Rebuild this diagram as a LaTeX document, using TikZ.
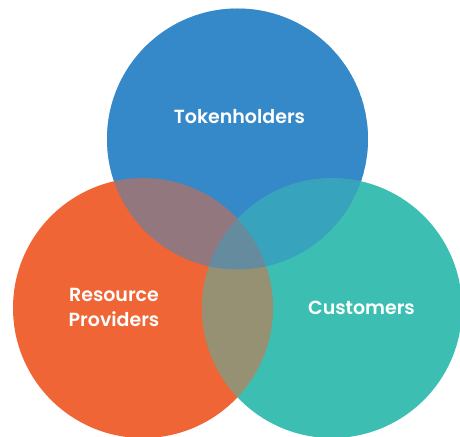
\documentclass[tikz,border=0pt]{standalone}
\usepackage{fontspec}
\newfontfamily\labelfont{Poppins SemiBold}
\definecolor{tokblue}{HTML}{3689C9}
\definecolor{resorange}{HTML}{F06535}
\definecolor{custteal}{HTML}{3CBFB2}
\tikzset{
  venntext/.style={text=white, font=\labelfont\fontsize{19}{25}\selectfont, align=center, inner sep=0pt}
}
\begin{document}
\begin{tikzpicture}[x=1pt, y=-1pt]
  \useasboundingbox (0,0) rectangle (460,436);
  \clip (0,0) rectangle (460,436);
  % solid discs
  \fill[tokblue] (237.5,139) circle[radius=130.5];
  \fill[resorange] (143,308) circle[radius=130];
  \fill[custteal] (332,308) circle[radius=130];
  % orange over teal inside the teal disc
  \begin{scope}
    \clip (332,308) circle[radius=130];
    \fill[resorange, opacity=0.5] (143,308) circle[radius=130];
  \end{scope}
  % blue tint over everything inside the blue disc
  \begin{scope}
    \clip (237.5,139) circle[radius=130.5];
    \fill[tokblue, opacity=0.5] (237.5,139) circle[radius=130.5];
  \end{scope}
  % labels
  \node[venntext] (tok) at (239.5,117) {Tokenholders};
  \node[venntext] (res) at (114,307) {Resource\\Providers};
  \node[venntext] (cus) at (361.5,308) {Customers};
\end{tikzpicture}
\end{document}
